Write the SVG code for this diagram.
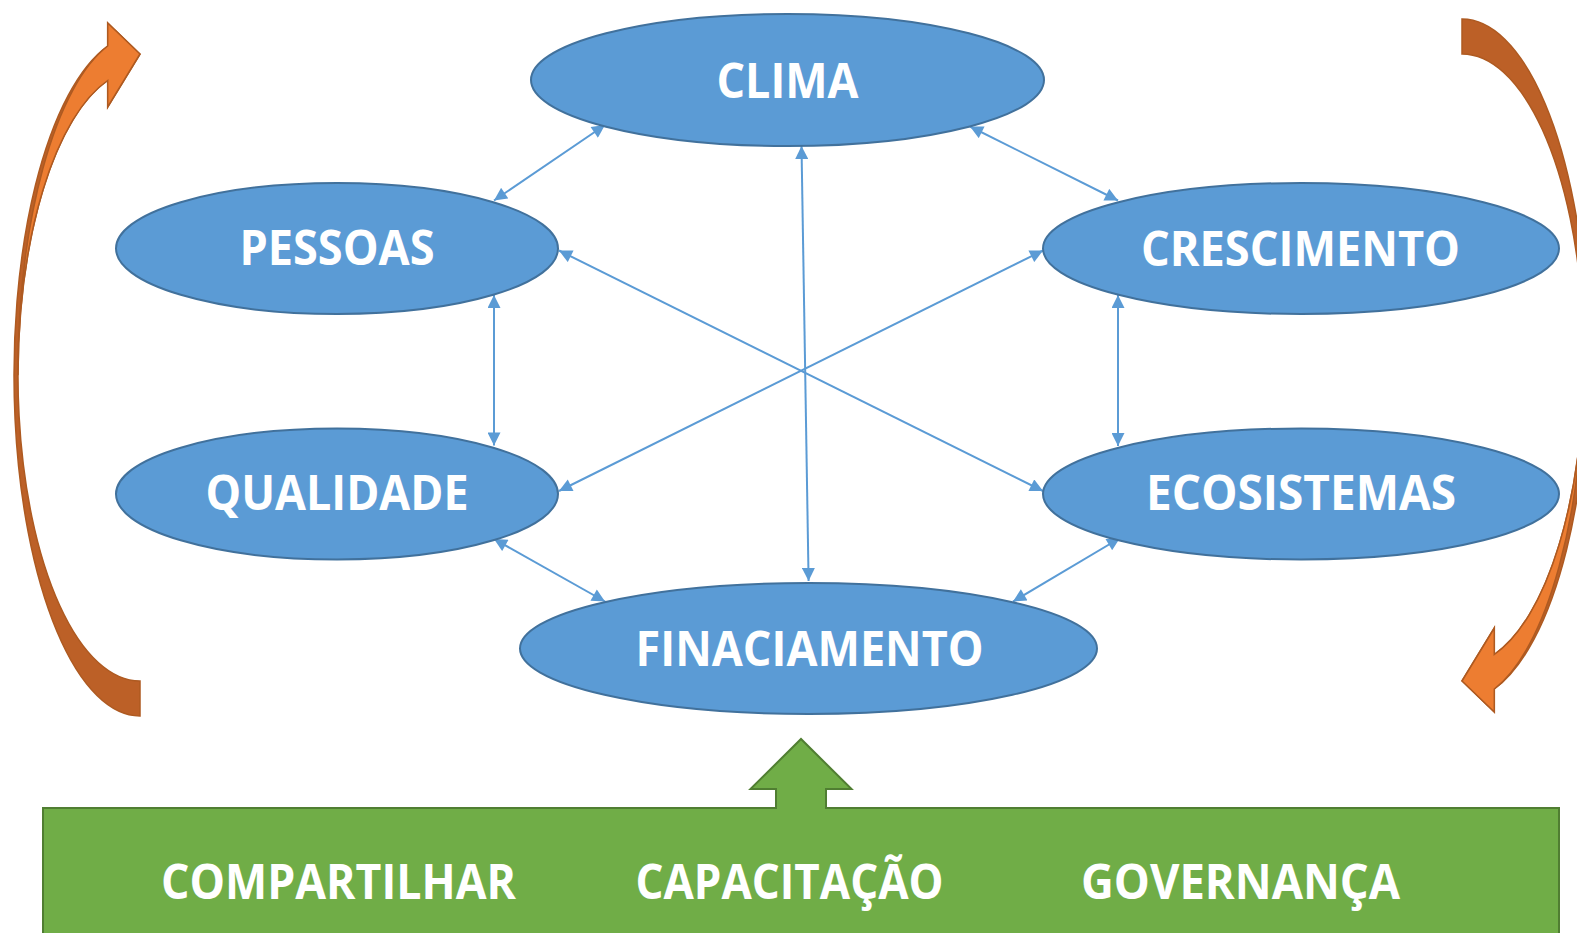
<svg xmlns="http://www.w3.org/2000/svg" width="1577" height="933" viewBox="0 0 1577 933">
<style>
.node ellipse{fill:#5B9BD5;stroke:#41719C;stroke-width:2}
.lbl{font-family:"Open Sans","Liberation Sans",sans-serif;font-weight:bold;font-size:48px;fill:#FFFFFF;text-anchor:middle}
.conn line{stroke:#5B9BD5;stroke-width:2;fill:none;marker-start:url(#ah);marker-end:url(#ah)}
.dark{fill:#BC6027;stroke:#AE5A21;stroke-width:1.5}
.light{fill:#ED7D31;stroke:#AE5A21;stroke-width:1.5}
</style>
<defs>
<marker id="ah" viewBox="0 0 12 12" refX="12" refY="6" markerWidth="14" markerHeight="13" markerUnits="userSpaceOnUse" orient="auto-start-reverse">
<path d="M0,0 L12,6 L0,12 Z" fill="#5B9BD5"/>
</marker>
<g id="curvedArrow">
<path class="dark" d="M140,716 A126,340.7 0 0 1 107.7,46 L107.7,23 L140,54 L107.7,107 L107.7,80.5 A122,305.7 0 0 0 140,681 Z"/>
<path class="light" d="M107.7,46 L107.7,23 L140,54 L107.7,107 L107.7,80.5 A122,305.7 0 0 0 18,375.3 A122,341.2 0 0 1 107.7,46 Z"/>
</g>
</defs>
<rect width="1577" height="933" fill="#FFFFFF"/>
<g id="arrow-left"><use href="#curvedArrow"/></g>
<g id="arrow-right"><use href="#curvedArrow" transform="rotate(180 801 367.5)"/></g>
<g id="connectors" class="conn">
<line x1="605" y1="125" x2="494" y2="200.5"/>
<line x1="970" y1="126.5" x2="1118" y2="200.5"/>
<line x1="494" y1="295" x2="494" y2="445.5"/>
<line x1="1118" y1="295" x2="1118" y2="446"/>
<line x1="494" y1="539" x2="605" y2="601.5"/>
<line x1="1120" y1="538" x2="1013" y2="601.5"/>
<line x1="801.5" y1="146" x2="808.6" y2="581"/>
<line x1="559" y1="250.5" x2="1043" y2="491"/>
<line x1="1043" y1="250.5" x2="559" y2="491"/>
</g>
<g id="clima" class="node"><ellipse cx="787.5" cy="80" rx="256.5" ry="66"/><text class="lbl" x="787.5" y="97.5" textLength="142" lengthAdjust="spacingAndGlyphs">CLIMA</text></g>
<g id="pessoas" class="node"><ellipse cx="337" cy="248.5" rx="221" ry="65.5"/><text class="lbl" x="337" y="265" textLength="195" lengthAdjust="spacingAndGlyphs">PESSOAS</text></g>
<g id="crescimento" class="node"><ellipse cx="1301" cy="248.5" rx="258" ry="65.5"/><text class="lbl" x="1300.5" y="265.5" textLength="319" lengthAdjust="spacingAndGlyphs">CRESCIMENTO</text></g>
<g id="qualidade" class="node"><ellipse cx="337" cy="494" rx="221" ry="65.5"/><text class="lbl" x="337" y="510" textLength="263" lengthAdjust="spacingAndGlyphs">QUALIDADE</text></g>
<g id="ecosistemas" class="node"><ellipse cx="1301" cy="494" rx="258" ry="65.5"/><text class="lbl" x="1301" y="510" textLength="310" lengthAdjust="spacingAndGlyphs">ECOSISTEMAS</text></g>
<g id="finaciamento" class="node"><ellipse cx="808.5" cy="648.5" rx="288.5" ry="65.5"/><text class="lbl" x="809.6" y="665.5" textLength="348" lengthAdjust="spacingAndGlyphs">FINACIAMENTO</text></g>
<g id="base">
<path d="M43,808 L776,808 L776,789 L750.5,789 L801,739 L851.5,789 L826,789 L826,808 L1559,808 L1559,945 L43,945 Z" fill="#70AD47" stroke="#507E32" stroke-width="2"/>
<text class="lbl" x="338.5" y="899" textLength="355" lengthAdjust="spacingAndGlyphs">COMPARTILHAR</text>
<text class="lbl" x="789.5" y="899" textLength="308" lengthAdjust="spacingAndGlyphs">CAPACITAÇÃO</text>
<text class="lbl" x="1240.5" y="899" textLength="319" lengthAdjust="spacingAndGlyphs">GOVERNANÇA</text>
</g>
</svg>
